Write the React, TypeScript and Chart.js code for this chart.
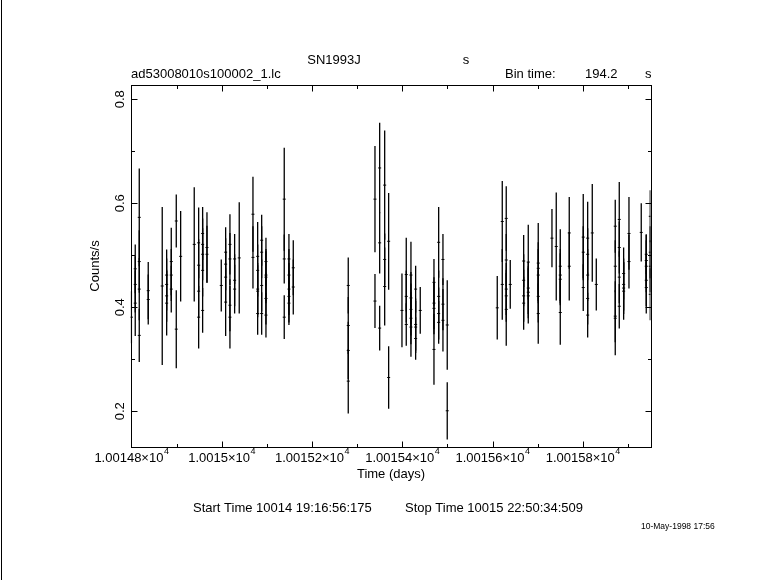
import React, { useEffect, useRef } from 'react';
import { Chart, registerables } from 'chart.js';

Chart.register(...registerables);

// Light curve values (time in days, rate in counts/s, 1-sigma error)
const times = [
  10014.8000,
  10014.8085, 10014.8085, 10014.8085,
  10014.8174, 10014.8174, 10014.8174, 10014.8174,
  10014.8373, 10014.8373,
  10014.8683,
  10014.8781, 10014.8781, 10014.8781, 10014.8781,
  10014.8883, 10014.8883, 10014.8883,
  10014.8994, 10014.8994,
  10014.9091,
  10014.9392,
  10014.9490, 10014.9490, 10014.9490, 10014.9490,
  10014.9578, 10014.9578, 10014.9578, 10014.9578, 10014.9578,
  10014.9674, 10014.9674,
  10014.9991,
  10015.0088, 10015.0088, 10015.0088, 10015.0088,
  10015.0183, 10015.0183, 10015.0183, 10015.0183,
  10015.0287, 10015.0287, 10015.0287,
  10015.0389,
  10015.0693, 10015.0693,
  10015.0797, 10015.0797, 10015.0797, 10015.0797, 10015.0797,
  10015.0886, 10015.0886, 10015.0886, 10015.0886,
  10015.0981, 10015.0981, 10015.0981, 10015.0981, 10015.0981,
  10015.1386, 10015.1386, 10015.1386,
  10015.1490, 10015.1490, 10015.1490, 10015.1490, 10015.1490,
  10015.1586, 10015.1586,
  10015.2804, 10015.2804, 10015.2804, 10015.2804,
  10015.3396, 10015.3396,
  10015.3500, 10015.3500, 10015.3500,
  10015.3611, 10015.3611, 10015.3611,
  10015.3699, 10015.3699,
  10015.3994,
  10015.4089, 10015.4089, 10015.4089,
  10015.4193, 10015.4193, 10015.4193, 10015.4193, 10015.4193,
  10015.4297, 10015.4297, 10015.4297, 10015.4297,
  10015.4399,
  10015.4703, 10015.4703, 10015.4703, 10015.4703,
  10015.4807, 10015.4807, 10015.4807, 10015.4807,
  10015.4902, 10015.4902, 10015.4902,
  10015.4997, 10015.4997,
  10015.6105,
  10015.6216, 10015.6216,
  10015.6304, 10015.6304, 10015.6304, 10015.6304, 10015.6304,
  10015.6393,
  10015.6690, 10015.6690, 10015.6690, 10015.6690,
  10015.6792, 10015.6792, 10015.6792, 10015.6792,
  10015.7013, 10015.7013, 10015.7013, 10015.7013, 10015.7013,
  10015.7317,
  10015.7412,
  10015.7501, 10015.7501, 10015.7501, 10015.7501,
  10015.7700, 10015.7700,
  10015.8010, 10015.8010, 10015.8010,
  10015.8108, 10015.8108, 10015.8108, 10015.8108, 10015.8108,
  10015.8210,
  10015.8299,
  10015.8719, 10015.8719, 10015.8719, 10015.8719,
  10015.8808, 10015.8808, 10015.8808, 10015.8808,
  10015.8905, 10015.8905, 10015.8905, 10015.8905,
  10015.9023, 10015.9023,
  10015.9295,
  10015.9406, 10015.9406, 10015.9406, 10015.9406, 10015.9406,
  10015.9495, 10015.9495, 10015.9495, 10015.9495,
];

const rates = [
  0.381,
  0.474, 0.444, 0.408,
  0.573, 0.488, 0.435, 0.346,
  0.432, 0.415,
  0.441,
  0.462, 0.444, 0.422, 0.408,
  0.488, 0.462, 0.435,
  0.566, 0.358,
  0.498,
  0.521,
  0.524, 0.481, 0.431, 0.381,
  0.542, 0.521, 0.502, 0.471, 0.394,
  0.515, 0.502,
  0.442,
  0.506, 0.483, 0.458, 0.410,
  0.521, 0.493, 0.404, 0.381,
  0.493, 0.452, 0.435,
  0.495,
  0.579, 0.496,
  0.498, 0.471, 0.435, 0.431, 0.388,
  0.529, 0.506, 0.442, 0.388,
  0.488, 0.462, 0.458, 0.417, 0.385,
  0.608, 0.493, 0.381,
  0.493, 0.462, 0.435, 0.421, 0.408,
  0.476, 0.439,
  0.442, 0.365, 0.317, 0.258,
  0.608, 0.412,
  0.668, 0.524, 0.360,
  0.635, 0.492, 0.440,
  0.527, 0.265,
  0.394,
  0.463, 0.421, 0.367,
  0.462, 0.418, 0.396, 0.379, 0.362,
  0.435, 0.367, 0.362, 0.340,
  0.394,
  0.448, 0.408, 0.398, 0.319,
  0.525, 0.421, 0.388, 0.371,
  0.492, 0.406, 0.375,
  0.366, 0.201,
  0.399,
  0.565, 0.444,
  0.571, 0.491, 0.435, 0.422, 0.396,
  0.444,
  0.489, 0.452, 0.422, 0.408,
  0.487, 0.437, 0.429, 0.422,
  0.485, 0.475, 0.462, 0.421, 0.388,
  0.533,
  0.517,
  0.479, 0.462, 0.454, 0.390,
  0.543, 0.479,
  0.535, 0.506, 0.438,
  0.533, 0.502, 0.462, 0.417, 0.385,
  0.543,
  0.444,
  0.556, 0.479, 0.383, 0.379,
  0.569, 0.515, 0.458, 0.402,
  0.465, 0.444, 0.437, 0.431,
  0.542, 0.488,
  0.544,
  0.502, 0.490, 0.479, 0.452, 0.438,
  0.575, 0.506, 0.479, 0.425,
];

const errors = [
  0.050,
  0.047, 0.054, 0.063,
  0.094, 0.060, 0.060, 0.051,
  0.055, 0.048,
  0.152,
  0.049, 0.050, 0.050, 0.062,
  0.065, 0.050, 0.045,
  0.051, 0.075,
  0.087,
  0.110,
  0.068, 0.050, 0.050, 0.060,
  0.051, 0.050, 0.050, 0.050, 0.043,
  0.068, 0.055,
  0.050,
  0.048, 0.050, 0.050, 0.065,
  0.058, 0.050, 0.050, 0.060,
  0.048, 0.050, 0.047,
  0.107,
  0.072, 0.060,
  0.066, 0.050, 0.050, 0.050, 0.041,
  0.049, 0.050, 0.050, 0.041,
  0.046, 0.050, 0.050, 0.050, 0.043,
  0.099, 0.047, 0.042,
  0.048, 0.050, 0.050, 0.050, 0.042,
  0.053, 0.053,
  0.054, 0.055, 0.055, 0.062,
  0.102, 0.052,
  0.087, 0.059, 0.043,
  0.105, 0.050, 0.075,
  0.093, 0.060,
  0.071,
  0.071, 0.050, 0.041,
  0.064, 0.050, 0.050, 0.050, 0.057,
  0.045, 0.050, 0.050, 0.041,
  0.045,
  0.045, 0.050, 0.050, 0.068,
  0.068, 0.050, 0.050, 0.041,
  0.049, 0.050, 0.060,
  0.086, 0.055,
  0.061,
  0.078, 0.068,
  0.062, 0.050, 0.050, 0.050, 0.070,
  0.047,
  0.050, 0.050, 0.050, 0.051,
  0.072, 0.050, 0.050, 0.053,
  0.077, 0.050, 0.050, 0.050, 0.058,
  0.056,
  0.104,
  0.071, 0.050, 0.050, 0.062,
  0.069, 0.066,
  0.083, 0.050, 0.045,
  0.070, 0.050, 0.050, 0.050, 0.043,
  0.094,
  0.050,
  0.051, 0.050, 0.050, 0.071,
  0.072, 0.050, 0.050, 0.043,
  0.050, 0.050, 0.050, 0.055,
  0.070, 0.052,
  0.056,
  0.038, 0.050, 0.050, 0.050, 0.050,
  0.050, 0.050, 0.050, 0.050,
];

// Axis ticks and labels
const xMajorTicks = [10014.8, 10015.0, 10015.2, 10015.4, 10015.6, 10015.8];
const xMajorLabels = ['1.00148', '1.0015', '1.00152', '1.00154', '1.00156', '1.00158'];
const xMinorTicks = [10014.9, 10015.1, 10015.3, 10015.5, 10015.7, 10015.9];
const yMajorTicks = [0.2, 0.4, 0.6, 0.8];
const yMajorLabels = ['0.2', '0.4', '0.6', '0.8'];
const yMinorTicks = [0.3, 0.5, 0.7];

const X_MIN = 10014.798;
const X_MAX = 10015.950;
const Y_MIN = 0.1323;
const Y_MAX = 0.8285;

const FONT = '"Liberation Sans", Arial, sans-serif';

const pgplotPlugin = {
  id: 'pgplot',
  afterDraw(chart: any) {
    const { ctx, chartArea: a, scales } = chart;
    const xs = scales.x;
    const ys = scales.y;
    const L = Math.round(a.left) + 0.5;
    const R = Math.round(a.right) + 0.5;
    const T = Math.round(a.top) + 0.5;
    const B = Math.round(a.bottom) + 0.5;
    ctx.save();
    ctx.strokeStyle = '#000';
    ctx.fillStyle = '#000';
    ctx.lineWidth = 1;

    // page left border
    ctx.beginPath();
    ctx.moveTo(1.5, 0);
    ctx.lineTo(1.5, chart.height);
    ctx.stroke();

    // frame
    ctx.strokeRect(L, T, R - L, B - T);

    const MAJ = 6;
    const MIN = 3.5;
    ctx.beginPath();
    const xt = (v: number, len: number) => {
      const p = Math.round(xs.getPixelForValue(v)) + 0.5;
      ctx.moveTo(p, B); ctx.lineTo(p, B - len);
      ctx.moveTo(p, T); ctx.lineTo(p, T + len);
    };
    const yt = (v: number, len: number) => {
      const p = Math.round(ys.getPixelForValue(v)) + 0.5;
      ctx.moveTo(L, p); ctx.lineTo(L + len, p);
      ctx.moveTo(R, p); ctx.lineTo(R - len, p);
    };
    xMajorTicks.forEach((v) => xt(v, MAJ));
    xMinorTicks.forEach((v) => xt(v, MIN));
    yMajorTicks.forEach((v) => yt(v, MAJ));
    yMinorTicks.forEach((v) => yt(v, MIN));
    ctx.stroke();

    ctx.textBaseline = 'middle';

    // x tick labels with superscript exponent
    xMajorTicks.forEach((v, i) => {
      const p = xs.getPixelForValue(v);
      ctx.font = `13px ${FONT}`;
      const main = xMajorLabels[i] + '\u00d710';
      const w1 = ctx.measureText(main).width;
      ctx.font = `9px ${FONT}`;
      const w2 = ctx.measureText('4').width;
      const x0 = p - (w1 + w2) / 2;
      ctx.font = `13px ${FONT}`;
      ctx.textAlign = 'left';
      ctx.fillText(main, x0, 458);
      ctx.font = `9px ${FONT}`;
      ctx.fillText('4', x0 + w1 + 0.5, 452);
    });

    // y tick labels (rotated, parallel to axis)
    ctx.font = `13px ${FONT}`;
    ctx.textAlign = 'center';
    yMajorTicks.forEach((v, i) => {
      const p = ys.getPixelForValue(v);
      ctx.save();
      ctx.translate(120, p);
      ctx.rotate(-Math.PI / 2);
      ctx.fillText(yMajorLabels[i], 0, 0);
      ctx.restore();
    });

    // axis titles
    ctx.save();
    ctx.translate(95, 266);
    ctx.rotate(-Math.PI / 2);
    ctx.fillText('Counts/s', 0, 0);
    ctx.restore();
    ctx.fillText('Time (days)', 391, 474);

    // header texts
    ctx.fillText('SN1993J', 334, 60);
    ctx.fillText('s', 466, 60);
    ctx.textAlign = 'left';
    ctx.fillText('ad53008010s100002_1.lc', 131, 74);
    ctx.fillText('Bin time:', 505, 74);
    ctx.fillText('194.2', 585, 74);
    ctx.fillText('s', 645, 74);

    // footer texts
    ctx.fillText('Start Time 10014 19:16:56:175', 193, 508);
    ctx.fillText('Stop Time 10015 22:50:34:509', 405, 508);
    ctx.font = `8.5px ${FONT}`;
    ctx.fillText('10-May-1998 17:56', 641, 527);

    ctx.restore();
  },
};

export default function App() {
  const ref = useRef<HTMLCanvasElement | null>(null);
  useEffect(() => {
    if (!ref.current) return;
    const bars = times.map((t, i) => ({ x: t, y: [rates[i] - errors[i], rates[i] + errors[i]] }));
    const centers = times.map((t, i) => ({ x: t, y: rates[i] }));
    const chart = new Chart(ref.current, {
      type: 'bar',
      data: {
        datasets: [
          {
            type: 'bar',
            data: bars as any,
            backgroundColor: '#000',
            borderWidth: 0,
            barThickness: 1.3,
            inflateAmount: 0,
            grouped: false,
          } as any,
          {
            type: 'scatter',
            data: centers,
            pointStyle: 'line',
            radius: 1.5,
            borderColor: '#000',
            backgroundColor: '#000',
            borderWidth: 1,
          } as any,
        ],
      },
      options: {
        responsive: false,
        animation: false,
        devicePixelRatio: 1,
        events: [],
        layout: { padding: { left: 130.5, right: 130.5, top: 84.5, bottom: 133.5 } },
        plugins: { legend: { display: false }, tooltip: { enabled: false }, title: { display: false } },
        scales: {
          x: { type: 'linear', min: X_MIN, max: X_MAX, display: false, offset: false },
          y: { type: 'linear', min: Y_MIN, max: Y_MAX, display: false },
        },
      } as any,
      plugins: [pgplotPlugin],
    });
    return () => chart.destroy();
  }, []);
  return (
    <div style={{ position: 'absolute', left: 0, top: 0, width: 781, height: 580, background: '#fff' }}>
      <canvas ref={ref} width={781} height={580} style={{ width: 781, height: 580, display: 'block' }} />
    </div>
  );
}
